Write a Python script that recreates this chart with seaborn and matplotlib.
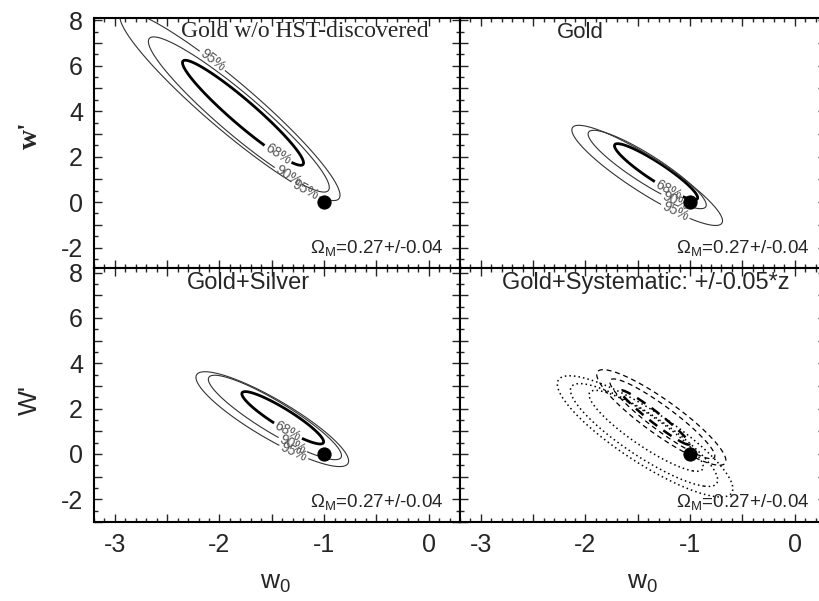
import numpy as np
import matplotlib
matplotlib.use("Agg")
import matplotlib.pyplot as plt
from matplotlib.ticker import MultipleLocator, FuncFormatter
import seaborn as sns

############### Dados ###############

# titulos dos paineis
titulos = ["Gold w/o HST-discovered", "Gold", "Gold+Silver", "Gold+Systematic: +/-0.05*z"]
omega_txt = r"$\Omega_\mathrm{M}$=0.27+/-0.04"
rotulos_cl = ["68%", "90%", "95%"]

# contornos 68/90/95%: centro (w0, w'), semi-eixo maior, semi-eixo menor
# familias: 0 = sem HST, 1 = Gold, 2 = Gold+Silver, 3 = sistematico (tracejado), 4 = sistematico (pontilhado)
centro_w0 = [[-1.775, -1.815, -1.90],
             [-1.325, -1.41, -1.41],
             [-1.395, -1.47, -1.495],
             [-1.335, -1.265, -1.275],
             [-1.42, -1.44, -1.43]]
centro_wp = [[3.93, 3.855, 4.23],
             [1.335, 1.435, 1.175],
             [1.595, 1.61, 1.535],
             [1.61, 1.55, 1.61],
             [1.02, 0.835, 0.775]]
semi_maior = [[2.376, 3.51, 4.28],
              [1.29, 1.80, 2.30],
              [1.21, 1.95, 2.19],
              [1.24, 1.82, 2.18],
              [1.85, 2.35, 2.77]]
semi_menor = [[0.17, 0.285, 0.34],
              [0.145, 0.23, 0.29],
              [0.15, 0.26, 0.33],
              [0.08, 0.18, 0.26],
              [0.24, 0.33, 0.41]]
angulo = [-76.5, -73.2, -72.5, -75.0, -74.5]

# ponto LCDM
lcdm_w0 = [-1.0]
lcdm_wp = [0.0]

# onde ficam os rotulos dos contornos (painel -> lista por nivel)
pos_rotulos = {
    0: [[(-1.46, 1.98)], [(-1.35, 1.10)], [(-1.20, 0.37), (-2.04, 6.39)]],
    1: [[(-1.21, 0.51)], [(-1.15, -0.07)], [(-1.16, -0.59)]],
    2: [[(-1.35, 0.98)], [(-1.30, 0.40)], [(-1.31, -0.12)]],
}

############### Figura ###############

sns.set_style("ticks")
plt.rcParams["font.family"] = ["Liberation Sans", "DejaVu Sans"]
plt.rcParams["mathtext.fontset"] = "custom"
plt.rcParams["mathtext.rm"] = "Liberation Sans"
plt.rcParams["mathtext.it"] = "Liberation Sans:italic"

fig = plt.figure(figsize=(8.19, 6.01), dpi=100)

g0 = np.linspace(-3.4, 0.5, 600)
g1 = np.linspace(-3.5, 9.5, 600)
X, Y = np.meshgrid(g0, g1)


def raio(f, j):
    # distancia "eliptica" normalizada: contorno em 1
    th = np.deg2rad(angulo[f])
    dx = X - centro_w0[f][j]
    dy = Y - centro_wp[f][j]
    u = dx * np.cos(th) + dy * np.sin(th)
    v = -dx * np.sin(th) + dy * np.cos(th)
    return np.sqrt((u / semi_maior[f][j]) ** 2 + (v / semi_menor[f][j]) ** 2)


# posicoes dos paineis (fracao da figura)
L, W = 94 / 819, 366 / 819
R = 460 / 819
pos = [
    [L, 1 - 268 / 601, W, 250 / 601],
    [R, 1 - 268 / 601, W, 250 / 601],
    [L, 1 - 522 / 601, W, 254 / 601],
    [R, 1 - 522 / 601, W, 254 / 601],
]
ylims = [(-2.9, 8.1), (-2.9, 8.1), (-3.0, 8.2), (-3.0, 8.2)]
tit_x = [0.577, 0.328, 0.423, 0.508]
larguras = [2.0, 0.8, 0.8]
cores = ["black", "#333333", "#333333"]

so_inteiros = FuncFormatter(lambda v, p: f"{v:.0f}" if abs(v - round(v)) < 1e-6 else "")
so_pares = FuncFormatter(lambda v, p: f"{v:.0f}" if abs(v / 2 - round(v / 2)) < 1e-6 else "")

for k in range(4):
    ax = fig.add_axes(pos[k])
    ax.set_xlim(-3.2, 0.3)
    ax.set_ylim(*ylims[k])

    if k < 3:
        for j in range(3):
            cs = ax.contour(X, Y, raio(k, j), levels=[1.0], colors=cores[j],
                            linewidths=larguras[j])
            ax.clabel(cs, fmt={1.0: rotulos_cl[j]}, fontsize=10, colors="#555555",
                      inline=True, inline_spacing=2, manual=pos_rotulos[k][j])
    else:
        for j in range(3):
            ax.contour(X, Y, raio(3, j), levels=[1.0], colors="black",
                       linewidths=[1.8, 0.9, 0.9][j],
                       linestyles=[(0, (4, 3))])
            ax.contour(X, Y, raio(4, j), levels=[1.0], colors="black",
                       linewidths=1.1, linestyles=[(0, (1, 2))])

    sns.scatterplot(x=lcdm_w0, y=lcdm_wp, ax=ax, s=90, color="black",
                    edgecolor="black", zorder=5, legend=False)

    ax.xaxis.set_major_locator(MultipleLocator(0.5))
    ax.xaxis.set_minor_locator(MultipleLocator(0.1))
    ax.yaxis.set_major_locator(MultipleLocator(1))
    ax.yaxis.set_minor_locator(MultipleLocator(0.5))
    ax.xaxis.set_major_formatter(so_inteiros)
    ax.yaxis.set_major_formatter(so_pares)
    ax.tick_params(which="both", direction="in", top=True, right=True,
                   labelsize=18, width=1.0, pad=8)
    ax.tick_params(which="major", length=6)
    ax.tick_params(which="minor", length=3)
    if k < 2:
        ax.tick_params(labelbottom=False)
    if k % 2 == 1:
        ax.tick_params(labelleft=False)
    for s in ax.spines.values():
        s.set_linewidth(1.5)
        s.set_color("black")

    if k == 0:
        ax.text(tit_x[k], 0.945, titulos[k], transform=ax.transAxes, ha="center",
                va="center", fontsize=17, family="Liberation Serif")
    else:
        ax.text(tit_x[k], 0.94, titulos[k], transform=ax.transAxes, ha="center",
                va="center", fontsize=17 if k > 1 else 16)
    ax.text(0.955, 0.08, omega_txt, transform=ax.transAxes, ha="right",
            va="center", fontsize=13.5)

# rotulos dos eixos
fig.text(30 / 819, 1 - 135 / 601, "w'", rotation=90, ha="center", va="center",
         fontsize=20, family="Liberation Serif", fontweight="bold")
fig.text(30 / 819, 1 - 400 / 601, "W'", rotation=90, ha="center", va="center",
         fontsize=19)
fig.text(275 / 819, 1 - 583 / 601, "w$_0$", ha="center", va="center", fontsize=19)
fig.text(642 / 819, 1 - 583 / 601, "w$_0$", ha="center", va="center", fontsize=19)

fig.savefig("out.png", dpi=100)
